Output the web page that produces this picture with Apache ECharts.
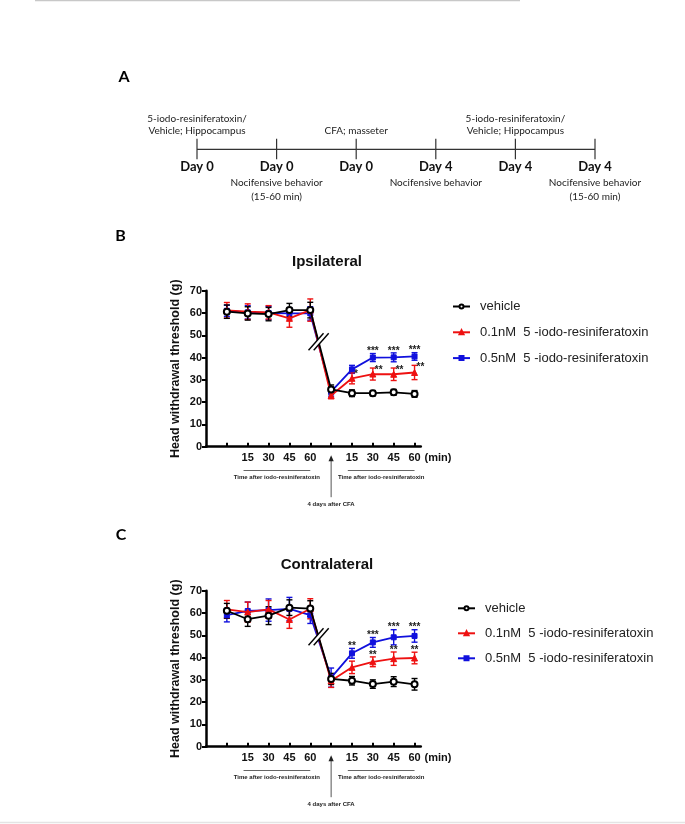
<!DOCTYPE html>
<html><head><meta charset="utf-8">
<script src="https://cdn.jsdelivr.net/npm/echarts@6/dist/echarts.min.js"></script>
<style>html,body{margin:0;padding:0;background:#fff}#c{width:685px;height:824px}</style>
</head><body><div id="c"></div>
<script>
// ---------------- data ----------------
const timePoints = [1, 2, 3, 4, 5, 6, 7, 8, 9, 10];
const xTickLabels = ['', '', '15', '30', '45', '60', '', '15', '30', '45', '60'];
const labelledTicks = [2, 3, 4, 5, 7, 8, 9, 10];
const seriesNames = ['vehicle', '0.1nM  5 -iodo-resiniferatoxin', '0.5nM  5 -iodo-resiniferatoxin'];

// Ipsilateral
const ipsiVehicle     = [60.6, 59.8, 59.5, 61.3, 61.3, 25.7, 24.0, 24.0, 24.4, 23.7];
const ipsiVehicleErr  = [3.0, 3.0, 3.0, 3.0, 3.5, 2.0, 1.5, 1.2, 1.3, 1.5];
const ipsiLow         = [61.2, 60.6, 60.3, 57.6, 61.3, 23.0, 30.7, 32.6, 32.5, 33.3];
const ipsiLowErr      = [3.5, 3.5, 3.0, 4.0, 5.0, 1.5, 2.5, 2.7, 2.8, 3.2];
const ipsiHigh        = [61.0, 60.3, 60.0, 59.8, 59.8, 24.7, 34.7, 40.0, 40.1, 40.5];
const ipsiHighErr     = [2.5, 3.0, 3.0, 2.5, 3.0, 2.0, 1.8, 1.8, 2.0, 1.7];
const ipsiLowStars    = ['', '', '', '', '', '', '*', '**', '**', '**'];
const ipsiHighStars   = ['', '', '', '', '', '', '', '***', '***', '***'];

// Contralateral
const contraVehicle    = [61.0, 57.2, 58.8, 62.4, 62.0, 30.4, 29.6, 28.1, 29.2, 28.0];
const contraVehicleErr = [3.3, 3.2, 4.0, 3.5, 3.5, 2.5, 1.9, 1.9, 2.2, 2.6];
const contraLow        = [61.6, 60.4, 61.6, 57.1, 61.9, 29.6, 35.6, 38.1, 39.5, 39.8];
const contraLowErr     = [4.0, 4.5, 4.0, 4.0, 4.5, 3.0, 2.8, 2.2, 3.0, 2.6];
const contraHigh       = [59.0, 60.9, 61.3, 61.8, 59.0, 31.0, 41.9, 46.8, 49.1, 49.7];
const contraHighErr    = [3.0, 4.0, 5.0, 5.2, 3.7, 4.3, 2.2, 2.2, 3.4, 2.8];
const contraLowStars   = ['', '', '', '', '', '', '', '**', '**', '**'];
const contraHighStars  = ['', '', '', '', '', '', '**', '***', '***', '***'];

// Timeline (panel A)
const tlPositions = [0, 1, 2, 3, 4, 5];
const tlDays  = ['Day 0', 'Day 0', 'Day 0', 'Day 4', 'Day 4', 'Day 4'];
const tlAbove = ['5-iodo-resiniferatoxin/\nVehicle; Hippocampus', '', 'CFA; masseter', '', '5-iodo-resiniferatoxin/\nVehicle; Hippocampus', ''];
const tlBelow = ['', 'Nocifensive behavior\n(15-60 min)', '', 'Nocifensive behavior', '', 'Nocifensive behavior\n(15-60 min)'];

const groupRanges = [[2, 5], [7, 10]];
const groupText = 'Time after iodo-resiniferatoxin';
const arrowAt = 6;
const arrowText = '4 days after CFA';

// ---------------- styles ----------------
const ARIAL = '"Liberation Sans", Arial, sans-serif';
const NARROW = '"Liberation Sans Narrow", "Liberation Sans", Arial, sans-serif';
const CAL = 'Lato, "Open Sans", sans-serif';
const colors = ['#000000', '#ee1111', '#1010dd'];
const symbols = ['emptyCircle', 'triangle', 'rect'];
const symbolSizes = [6, 6, 5];

const chart = echarts.init(document.getElementById('c'), null, {renderer: 'canvas'});

const grids = [
  {left: 197, top: 139.3, width: 398, height: 20},     // timeline
  {left: 206, top: 290.7, width: 214.8, height: 156},  // B
  {left: 206, top: 590.7, width: 214.8, height: 156}   // C
];

const xAxes = [
  {gridIndex: 0, type: 'value', min: 0, max: 5, show: false},
  {gridIndex: 1}, {gridIndex: 2}
].map((a, i) => i === 0 ? a : Object.assign({
  type: 'value', min: 0, max: 10.3, interval: 1,
  name: '(min)', nameLocation: 'end', nameGap: 3,
  nameTextStyle: {fontFamily: ARIAL, fontWeight: 'bold', fontSize: 11, color: '#111', verticalAlign: 'top', padding: [6, 0, 0, 0]},
  axisLine: {lineStyle: {color: '#000', width: 2.5}},
  axisTick: {inside: true, length: 4, lineStyle: {color: '#000', width: 2}, customValues: timePoints},
  axisLabel: {customValues: labelledTicks, formatter: v => xTickLabels[Math.round(v)] || '', margin: 6,
    fontFamily: ARIAL, fontWeight: 'bold', fontSize: 11, color: '#111'},
  splitLine: {show: false}
}, a));

const yAxes = [
  {gridIndex: 0, type: 'value', min: -1, max: 1, show: false},
  {gridIndex: 1}, {gridIndex: 2}
].map((a, i) => i === 0 ? a : Object.assign({
  type: 'value', min: 0, max: 70, interval: 10,
  name: 'Head withdrawal threshold (g)', nameLocation: 'middle', nameGap: 24, nameRotate: 90,
  nameTextStyle: {fontFamily: ARIAL, fontWeight: 'bold', fontSize: 12.5, color: '#111'},
  axisLine: {show: true, lineStyle: {color: '#000', width: 2.5}},
  axisTick: {show: true, length: 4, lineStyle: {color: '#000', width: 2}},
  axisLabel: {margin: 4, fontFamily: ARIAL, fontWeight: 'bold', fontSize: 11, color: '#111'},
  splitLine: {show: false}
}, a));

const series = [];

// Timeline custom series
series.push({
  type: 'custom', xAxisIndex: 0, yAxisIndex: 0, silent: true,
  data: tlPositions.map(p => [p, 0]),
  renderItem: (params, api) => {
    const i = params.dataIndex;
    const p = api.coord([api.value(0), 0]);
    const ch = [];
    if (i > 0) {
      const q = api.coord([tlPositions[i - 1], 0]);
      ch.push({type: 'line', shape: {x1: q[0], y1: q[1], x2: p[0], y2: p[1]}, style: {stroke: '#333', lineWidth: 1.2}});
    }
    ch.push({type: 'line', shape: {x1: p[0], y1: p[1] - 10.6, x2: p[0], y2: p[1] + 10}, style: {stroke: '#333', lineWidth: 1.2}});
    ch.push({type: 'text', x: p[0], y: p[1] + 18, style: {text: tlDays[i], fill: '#111', fontFamily: CAL, fontWeight: 'bold', fontSize: 13, align: 'center', verticalAlign: 'middle'}});
    if (tlAbove[i]) ch.push({type: 'text', x: p[0], y: p[1] - 11.8, style: {text: tlAbove[i], fill: '#222', fontFamily: CAL, fontSize: 10, lineHeight: 12.5, align: 'center', verticalAlign: 'bottom'}});
    if (tlBelow[i]) ch.push({type: 'text', x: p[0], y: p[1] + 26.4, style: {text: tlBelow[i], fill: '#222', fontFamily: CAL, fontSize: 10, lineHeight: 14, align: 'center', verticalAlign: 'top'}});
    return {type: 'group', children: ch};
  }
});

function addPanel(gi, means, errs, stars, starSide) {
  [2, 1, 0].forEach(k => {
    series.push({
      type: 'custom', xAxisIndex: gi, yAxisIndex: gi, silent: true, z: 2 + (2 - k),
      data: timePoints.map((t, i) => [t, means[k][i], errs[k][i]]),
      renderItem: (params, api) => {
        const x = api.value(0), m = api.value(1), e = api.value(2);
        const top = api.coord([x, m + e]), bot = api.coord([x, m - e]);
        const cw = 3;
        const st = {stroke: colors[k], lineWidth: 1.4};
        const ch = [
          {type: 'line', shape: {x1: top[0], y1: top[1], x2: bot[0], y2: bot[1]}, style: st},
          {type: 'line', shape: {x1: top[0] - cw, y1: top[1], x2: top[0] + cw, y2: top[1]}, style: st},
          {type: 'line', shape: {x1: bot[0] - cw, y1: bot[1], x2: bot[0] + cw, y2: bot[1]}, style: st}
        ];
        const s = stars[k] ? stars[k][params.dataIndex] : '';
        if (s) {
          const right = starSide[k] === 'right';
          ch.push({type: 'text', x: top[0] + (right ? 2 : 0), y: top[1] + (right ? 2 : -2),
            style: {text: s, fill: '#222', fontFamily: ARIAL, fontWeight: 'bold', fontSize: 10,
              align: right ? 'left' : 'center', verticalAlign: 'middle'}});
        }
        return {type: 'group', children: ch};
      }
    });
    series.push({
      name: seriesNames[k], type: 'line', xAxisIndex: gi, yAxisIndex: gi, z: 5 + (2 - k),
      data: timePoints.map((t, i) => [t, means[k][i]]),
      symbol: symbols[k], symbolSize: symbolSizes[k], showAllSymbol: true,
      lineStyle: {color: colors[k], width: 1.8},
      itemStyle: {color: colors[k], borderColor: colors[k], borderWidth: k === 0 ? 1.6 : 1},
      animation: false
    });
  });
  series.push({
    type: 'custom', xAxisIndex: gi, yAxisIndex: gi, silent: true, z: 20,
    data: [[0, 0]],
    renderItem: (params, api) => {
      const ch = [];
      const a = api.coord([5, means[0][4]]), b = api.coord([6, means[0][5]]);
      const t = 0.4;
      const cx = a[0] + (b[0] - a[0]) * t, cy = a[1] + (b[1] - a[1]) * t;
      const hx = 7.5, hy = 8.5, off = 2.6;
      ch.push({type: 'polygon', shape: {points: [[cx - off - hx, cy + hy], [cx - off + hx, cy - hy], [cx + off + hx, cy - hy], [cx + off - hx, cy + hy]]}, style: {fill: '#fff'}});
      [-off, off].forEach(o => ch.push({type: 'line', shape: {x1: cx + o - hx, y1: cy + hy, x2: cx + o + hx, y2: cy - hy}, style: {stroke: '#000', lineWidth: 1.4}}));
      const y0 = api.coord([0, 0])[1];
      groupRanges.forEach(r => {
        const p1 = api.coord([r[0] - 0.2, 0])[0], p2 = api.coord([r[1], 0])[0];
        ch.push({type: 'line', shape: {x1: p1, y1: y0 + 23.8, x2: p2, y2: y0 + 23.8}, style: {stroke: '#666', lineWidth: 1}});
        ch.push({type: 'text', x: (p1 + p2) / 2, y: y0 + 30.5, style: {text: groupText, fill: '#222', fontFamily: NARROW, fontWeight: 'bold', fontSize: 6, align: 'center', verticalAlign: 'middle'}});
      });
      const ax = api.coord([arrowAt, 0])[0];
      ch.push({type: 'line', shape: {x1: ax, y1: y0 + 50.5, x2: ax, y2: y0 + 13}, style: {stroke: '#555', lineWidth: 1}});
      ch.push({type: 'polygon', shape: {points: [[ax, y0 + 8.5], [ax - 2.6, y0 + 14.5], [ax + 2.6, y0 + 14.5]]}, style: {fill: '#222'}});
      ch.push({type: 'text', x: ax, y: y0 + 57.5, style: {text: arrowText, fill: '#222', fontFamily: NARROW, fontWeight: 'bold', fontSize: 6, align: 'center', verticalAlign: 'middle'}});
      return {type: 'group', children: ch};
    }
  });
}

addPanel(1, [ipsiVehicle, ipsiLow, ipsiHigh], [ipsiVehicleErr, ipsiLowErr, ipsiHighErr],
  [null, ipsiLowStars, ipsiHighStars], [null, 'right', 'above']);
addPanel(2, [contraVehicle, contraLow, contraHigh], [contraVehicleErr, contraLowErr, contraHighErr],
  [null, contraLowStars, contraHighStars], [null, 'above', 'above']);

const legendBase = {
  orient: 'vertical', padding: 0, itemWidth: 17, itemHeight: 5, itemGap: 12.8,
  data: seriesNames, selectedMode: false,
  textStyle: {fontFamily: ARIAL, fontSize: 13, color: '#222', padding: [0, 0, 0, 5]}
};

const option = {
  backgroundColor: '#fff',
  animation: false,
  grid: grids,
  xAxis: xAxes,
  yAxis: yAxes,
  legend: [
    Object.assign({}, legendBase, {left: 452, top: 300}),
    Object.assign({}, legendBase, {left: 457, top: 601.8, itemGap: 12})
  ],
  graphic: [
    {type: 'line', shape: {x1: 35, y1: 0.5, x2: 520, y2: 0.5}, style: {stroke: '#c8c8c8', lineWidth: 1.5}},
    {type: 'line', shape: {x1: 0, y1: 822.5, x2: 685, y2: 822.5}, style: {stroke: '#e4e4e4', lineWidth: 1.5}},
    {type: 'text', x: 124, y: 77, style: {text: 'A', fill: '#000', fontFamily: CAL, fontWeight: 'bold', fontSize: 16, align: 'center', verticalAlign: 'middle'}},
    {type: 'text', x: 120.5, y: 236, style: {text: 'B', fill: '#000', fontFamily: CAL, fontWeight: 'bold', fontSize: 16, align: 'center', verticalAlign: 'middle'}},
    {type: 'text', x: 121, y: 535, style: {text: 'C', fill: '#000', fontFamily: CAL, fontWeight: 'bold', fontSize: 16, align: 'center', verticalAlign: 'middle'}},
    {type: 'text', x: 327, y: 262, style: {text: 'Ipsilateral', fill: '#111', fontFamily: ARIAL, fontWeight: 'bold', fontSize: 15, align: 'center', verticalAlign: 'middle'}},
    {type: 'text', x: 327, y: 565, style: {text: 'Contralateral', fill: '#111', fontFamily: ARIAL, fontWeight: 'bold', fontSize: 15, align: 'center', verticalAlign: 'middle'}}
  ],
  series: series
};
chart.setOption(option);
</script>
</body></html>
